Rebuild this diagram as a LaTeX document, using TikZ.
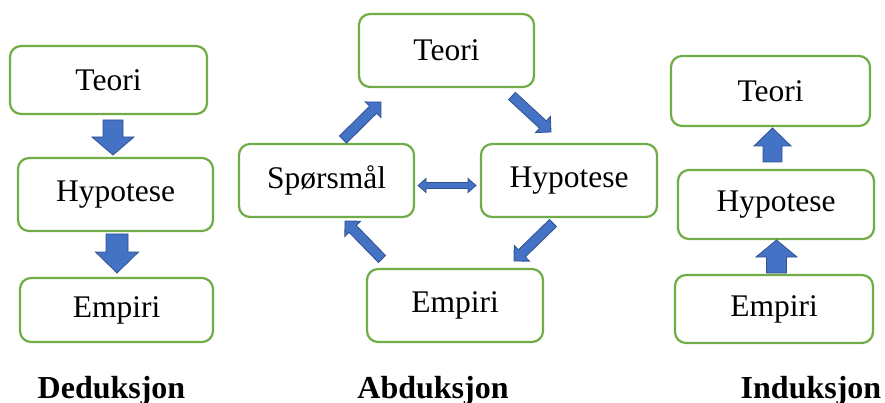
\documentclass[tikz,border=0pt]{standalone}
\usepackage{fontspec}
\setmainfont{Liberation Serif}
\usetikzlibrary{calc}
\definecolor{boxgreen}{HTML}{70AD47}
\definecolor{arrfill}{HTML}{4472C4}
\definecolor{arrline}{HTML}{2F528F}
\tikzset{
  box/.style={draw=boxgreen, line width=2.2pt, rounded corners=11pt, fill=white,
    inner sep=0pt, font=\fontsize{31.5}{36}\selectfont},
  blockarr/.style={fill=arrfill, draw=arrline, line width=0.8pt, line join=miter},
  caption/.style={font=\fontsize{32}{36}\selectfont\bfseries, anchor=base, inner sep=0pt}
}
% #1 tail, #2 tip, #3 half shaft width, #4 half head width, #5 head length
\newcommand\blockarrow[5]{%
  \draw[blockarr]
    ($(#1)!#3!-90:(#2)$) --
    ($($(#2)!#5!(#1)$)!#3!-90:(#2)$) --
    ($($(#2)!#5!(#1)$)!#4!-90:(#2)$) --
    (#2) --
    ($($(#2)!#5!(#1)$)!#4!90:(#2)$) --
    ($($(#2)!#5!(#1)$)!#3!90:(#2)$) --
    ($(#1)!#3!90:(#2)$) -- cycle;
}
\begin{document}
\begin{tikzpicture}[x=1pt,y=-1pt]
\useasboundingbox (0,0) rectangle (885,403);

% Deduksjon
\node[box, minimum width=197pt, minimum height=68pt] (dT) at (108.5,80) {Teori};
\node[box, minimum width=195pt, minimum height=73pt] (dH) at (115.5,194.5) {Hypotese};
\node[box, minimum width=193pt, minimum height=64pt] (dE) at (116.5,310) {Empiri};
\coordinate (d1a) at (113,120); \coordinate (d1b) at (113,155);
\coordinate (d2a) at (117,234); \coordinate (d2b) at (117,273);
\blockarrow{d1a}{d1b}{10pt}{21pt}{18pt}
\blockarrow{d2a}{d2b}{11pt}{21.5pt}{21pt}

% Abduksjon
\node[box, minimum width=175pt, minimum height=73pt] (aT) at (446.5,50.5) {Teori};
\node[box, minimum width=175pt, minimum height=73pt] (aS) at (326.5,180.5) {Spørsmål};
\node[box, minimum width=176pt, minimum height=73pt] (aH) at (569,180.5) {Hypotese};
\node[box, minimum width=176pt, minimum height=73pt] (aE) at (455,305.5) {Empiri};
\coordinate (a1a) at (343,139.5); \coordinate (a1b) at (381,102);
\coordinate (a2a) at (512,96); \coordinate (a2b) at (551,132);
\coordinate (a3a) at (553,223); \coordinate (a3b) at (514,261);
\coordinate (a4a) at (382,259); \coordinate (a4b) at (345,221);
\blockarrow{a1a}{a1b}{5pt}{11pt}{11pt}
\blockarrow{a2a}{a2b}{5pt}{11pt}{11pt}
\blockarrow{a3a}{a3b}{5pt}{11pt}{11pt}
\blockarrow{a4a}{a4b}{5pt}{11pt}{11pt}
% double arrow
\coordinate (dl) at (418,185.5); \coordinate (dr) at (476,185.5);
\draw[blockarr]
  (dl) -- (426,178.5) -- (426,182.5) -- (468,182.5) -- (468,178.5) -- (dr)
  -- (468,192.5) -- (468,188.5) -- (426,188.5) -- (426,192.5) -- cycle;

% Induksjon
\node[box, minimum width=199pt, minimum height=70pt] (iT) at (770.5,91) {Teori};
\node[box, minimum width=196pt, minimum height=69pt] (iH) at (776,204.5) {Hypotese};
\node[box, minimum width=198pt, minimum height=68pt] (iE) at (774,309) {Empiri};
\coordinate (i1a) at (772.5,162); \coordinate (i1b) at (772.5,128);
\coordinate (i2a) at (776.5,273); \coordinate (i2b) at (776.5,240);
\blockarrow{i1a}{i1b}{9.5pt}{18.5pt}{18pt}
\blockarrow{i2a}{i2b}{10pt}{20.5pt}{17pt}

% captions
\node[caption] (cD) at (111.5,398) {Deduksjon};
\node[caption] (cA) at (433,398) {Abduksjon};
\node[caption] (cI) at (811,398) {Induksjon};
\end{tikzpicture}
\end{document}
